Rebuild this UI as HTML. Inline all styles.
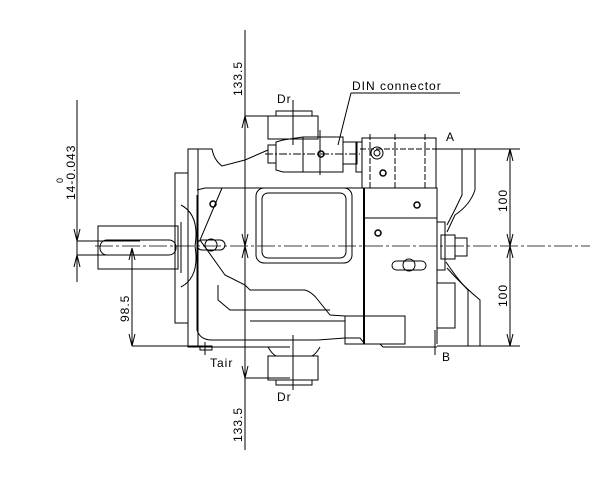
<!DOCTYPE html>
<html><head><style>body{margin:0;background:#fff}svg{display:block}text{font-family:"Liberation Sans Narrow","Liberation Sans",sans-serif;fill:#000}</style></head>
<body>
<svg width="602" height="487" viewBox="0 0 602 487" xmlns="http://www.w3.org/2000/svg">
<g fill="none" stroke="#000" stroke-width="1">
<line x1="95" y1="246" x2="590" y2="246" stroke-dasharray="18,3,3,3" stroke-width="0.7"/>
<line x1="245" y1="30" x2="245" y2="450"/>
<polyline points="242,128 245,116 248,128"/><polyline points="242,234 245,246 248,234"/>
<polyline points="242,258 245,246 248,258"/><polyline points="242,366 245,378 248,366"/>
<line x1="245" y1="116" x2="290" y2="116"/><line x1="245" y1="378" x2="290" y2="378"/>
<rect x="98" y="226" width="80" height="43"/>
<rect x="100" y="240" width="76" height="15" rx="7"/>
<line x1="178" y1="226" x2="178" y2="269"/><line x1="181" y1="222" x2="181" y2="273"/>
<line x1="77" y1="100" x2="77" y2="282"/>
<line x1="77" y1="241" x2="140" y2="241"/><line x1="77" y1="255" x2="140" y2="255"/>
<polyline points="74,229 77,241 80,229"/><polyline points="74,267 77,255 80,267"/>
<line x1="132" y1="248" x2="132" y2="346"/><line x1="132" y1="346" x2="210" y2="346"/>
<polyline points="129,260 132,248 135,260"/><polyline points="129,334 132,346 135,334"/>
<rect x="175" y="173" width="13" height="150"/>
<path d="M181,205 Q200,215 195,246 Q200,277 181,287"/>
<rect x="188" y="149" width="10" height="198"/>
<path d="M198,149 L212,149 Q214,160 222,166 L245,160 L268,150"/>
<path d="M198,347 L245,347 L290,347"/>
<path d="M197,195 L197,330 Q200,340 212,340 L245,340 L268,340 L295,340 L318,340 L345,338 L360,338 L365,344 L380,344 L383,347 L437,347"/>
<path d="M197,190 L205,188 L437,188 L437,344"/>
<path d="M222,188 L200,240 L225,275 L245,285 L250,290 L305,290 Q312,292 318,300 L330,315 L345,316 L363,316"/>
<path d="M218,285 L218,300 L230,310 L330,310"/>
<line x1="250" y1="321" x2="345" y2="321"/>
<rect x="256" y="188" width="96" height="75" rx="8"/>
<rect x="262" y="193" width="84" height="65" rx="6"/>
<line x1="364" y1="188" x2="364" y2="344" stroke-width="2"/>
<line x1="364" y1="218" x2="437" y2="218"/>
<rect x="437" y="222" width="8" height="48"/>
<rect x="437" y="283" width="18" height="45"/>
<rect x="345" y="316" width="60" height="28"/>
<rect x="197" y="240" width="28" height="10" rx="5"/><circle cx="211" cy="245" r="6"/>
<rect x="392" y="261" width="34" height="9" rx="4.5"/><circle cx="409" cy="265" r="6"/>
<g stroke-width="1.5"><circle cx="213" cy="204" r="3"/><circle cx="378" cy="233" r="3"/><circle cx="417" cy="205" r="3"/><circle cx="383" cy="173" r="3"/><circle cx="321" cy="154" r="3"/></g>
<circle cx="377" cy="153" r="6"/><circle cx="377" cy="153" r="3"/>
<rect x="362" y="138" width="74" height="50"/>
<rect x="356" y="142" width="6" height="30"/>
<line x1="370" y1="134" x2="370" y2="188" stroke-dasharray="6,2"/><line x1="395" y1="134" x2="395" y2="188" stroke-dasharray="6,2"/><line x1="425" y1="134" x2="425" y2="188" stroke-dasharray="6,2"/>
<line x1="360" y1="149" x2="437" y2="149" stroke-dasharray="6,2"/>
<rect x="303" y="137" width="40" height="35"/>
<rect x="343" y="142" width="14" height="22"/>
<path d="M303,137 L283,140 L276,142 L276,170 L283,172 L303,172"/>
<rect x="268" y="145" width="8" height="18"/>
<line x1="320" y1="130" x2="320" y2="175"/>
<line x1="265" y1="154" x2="360" y2="154" stroke-dasharray="8,2,2,2"/>
<line x1="338" y1="145" x2="351" y2="93"/><line x1="351" y1="93" x2="460" y2="93"/>
<rect x="268" y="116" width="50" height="23"/><rect x="276" y="111" width="36" height="5"/>
<line x1="293" y1="100" x2="293" y2="145"/>
<path d="M268,347 Q272,354 276,356 L312,356 Q316,354 320,347"/>
<rect x="268" y="356" width="50" height="24"/><rect x="276" y="380" width="36" height="5"/>
<line x1="293" y1="335" x2="293" y2="390"/>
<line x1="205" y1="342" x2="205" y2="355"/><rect x="200" y="346" width="12" height="4"/>
<rect x="441" y="235" width="14" height="24"/><rect x="455" y="238" width="12" height="18"/>
<line x1="437" y1="149" x2="520" y2="149"/><line x1="437" y1="346" x2="520" y2="346"/>
<path d="M462,149 L475,149 L475,190 Q470,205 455,215 L447,232"/>
<path d="M462,149 L462,195 Q455,210 447,225"/>
<path d="M447,268 Q462,285 480,300 L480,346"/>
<path d="M446,262 Q458,280 468,290 L468,346"/>
<line x1="510" y1="149" x2="510" y2="346"/>
<polyline points="507,161 510,149 513,161"/><polyline points="507,234 510,246 513,234"/>
<polyline points="507,258 510,246 513,258"/><polyline points="507,334 510,346 513,334"/>
<line x1="435" y1="330" x2="435" y2="355"/>
</g>
<g font-size="12" letter-spacing="1">
<text x="277" y="103">Dr</text>
<text x="277" y="401">Dr</text>
<text x="352" y="90">DIN connector</text>
<text x="446" y="141">A</text>
<text x="442" y="361">B</text>
<text x="210" y="367">Tair</text>
<text transform="translate(242,96) rotate(-90)">133.5</text>
<text transform="translate(242,442) rotate(-90)">133.5</text>
<text transform="translate(507,212) rotate(-90)">100</text>
<text transform="translate(507,307) rotate(-90)">100</text>
<text transform="translate(129,322) rotate(-90)">98.5</text>
<text transform="translate(75,200) rotate(-90)">14-0.043</text>
<text transform="translate(63,183) rotate(-90)" font-size="9">0</text>
</g>
</svg>
</body></html>
